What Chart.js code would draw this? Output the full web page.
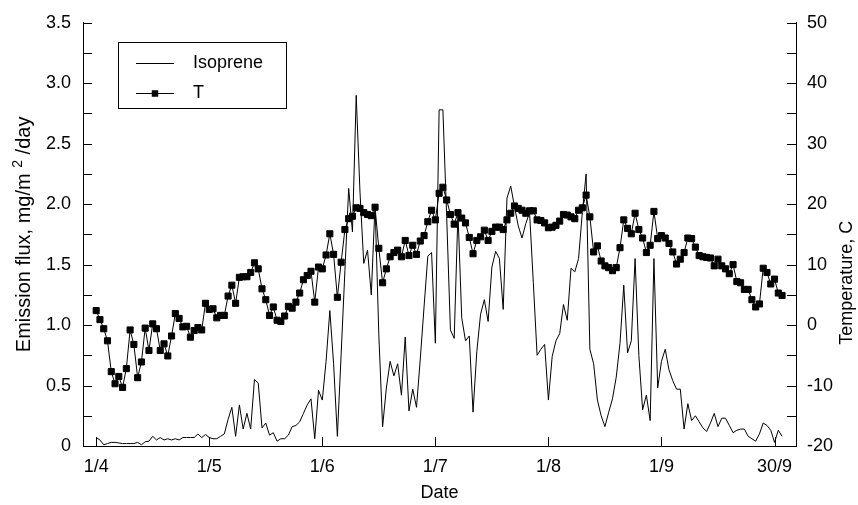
<!DOCTYPE html>
<html><head><meta charset="utf-8">
<script src="https://cdn.jsdelivr.net/npm/chart.js@4.4.0/dist/chart.umd.min.js"></script>
<style>html,body{margin:0;padding:0;background:#fff}#wrap{width:858px;height:505px;position:relative}</style>
</head><body><div id="wrap"><canvas id="c" width="858" height="505"></canvas></div>
<script>
// Daily series, 1 April (index 0) to 30 September (index 182)
const isoprene = [
0.07,0.05,0.01,0.02,0.03,0.03,0.025,0.02,0.02,0.02,
0.02,0.03,0.01,0.035,0.04,0.08,0.05,0.07,0.05,0.06,
0.05,0.06,0.05,0.07,0.07,0.07,0.07,0.10,0.07,0.095,
0.07,0.06,0.06,0.08,0.10,0.22,0.32,0.08,0.34,0.14,
0.27,0.14,0.55,0.52,0.15,0.19,0.09,0.11,0.04,0.06,
0.06,0.09,0.16,0.17,0.20,0.27,0.34,0.39,0.06,0.46,
0.38,0.70,1.12,0.68,0.08,0.76,1.45,2.13,1.77,2.90,
2.10,1.51,1.62,1.25,2.00,0.92,0.16,0.48,0.70,0.58,
0.68,0.42,0.90,0.29,0.47,0.32,0.72,1.15,1.57,1.60,
0.85,2.78,2.78,1.90,0.96,0.89,1.93,1.06,0.87,0.91,
0.28,0.78,1.09,1.21,1.03,1.48,1.61,1.55,1.13,2.05,
2.15,1.98,1.82,1.72,1.84,1.93,1.35,0.75,0.80,0.84,
0.38,0.74,0.87,0.93,1.17,1.04,1.47,1.44,1.55,1.93,
2.25,0.80,0.68,0.38,0.25,0.16,0.28,0.39,0.57,0.85,
1.33,0.77,0.87,1.55,0.75,0.30,0.42,0.21,1.55,0.48,
0.70,0.80,0.63,0.54,0.47,0.47,0.14,0.35,0.21,0.25,
0.20,0.15,0.12,0.19,0.27,0.16,0.23,0.23,0.17,0.11,
0.13,0.14,0.14,0.08,0.06,0.04,0.10,0.19,0.17,0.13,
0.03,0.13,0.08
];
const temperature = [
2.4,0.9,-0.6,-2.6,-7.7,-9.7,-8.5,-10.3,-7.2,-0.8,
-3.2,-8.7,-6.1,-0.5,-4.2,0.2,-0.6,-4.2,-3.1,-5.1,
-1.8,1.9,1.1,-0.3,-0.2,-2.0,-0.9,-0.4,-0.8,3.6,
2.6,2.7,1.2,1.6,1.6,4.8,6.6,3.6,7.9,8.0,
8.0,8.7,10.3,9.3,6.0,4.2,1.6,3.0,0.8,0.6,
1.5,3.1,2.8,3.8,5.3,7.5,8.2,8.9,3.8,9.6,
9.3,11.6,15.1,11.7,4.6,10.4,15.8,17.6,18.0,19.4,
19.3,18.6,18.3,18.1,19.5,12.7,7.0,9.3,11.3,12.0,
12.4,11.3,14.0,11.5,13.2,11.7,13.9,14.8,17.1,19.0,
17.4,21.8,22.8,20.7,18.3,16.7,18.6,17.7,16.9,14.5,
11.8,14.0,14.6,15.7,14.0,15.5,16.2,16.2,15.8,17.4,
18.5,19.7,19.3,19.0,18.5,18.9,18.9,17.4,17.3,16.9,
16.1,16.2,16.5,17.2,18.3,18.2,17.9,17.6,19.0,19.4,
21.5,17.9,12.1,13.1,10.6,9.8,9.5,9.0,9.5,12.8,
17.4,16.0,15.1,18.5,15.8,14.4,12.0,13.2,18.8,14.3,
14.8,14.4,13.5,12.1,10.1,10.9,12.0,14.4,14.3,12.9,
11.5,11.3,11.2,11.1,9.8,10.9,9.8,9.3,8.5,10.0,
7.2,7.0,5.9,5.9,4.2,3.0,3.5,9.4,8.7,6.8,
7.6,5.3,4.9
];
const xTickDays = [0, 30, 60, 90, 120, 150, 180];
const xTickLabels = ['1/4', '1/5', '1/6', '1/7', '1/8', '1/9', '30/9'];
const seriesLabels = ['Isoprene', 'T'];
const xTitle = 'Date';
const yLeftTitleParts = ['Emission flux, mg/m', '2', ' /day'];
const yRightTitle = 'Temperature, C';

const FONT = '"Liberation Sans", Arial, Helvetica, sans-serif';
const FS = 18;

const axisExtras = {
  id: 'axisExtras',
  afterDraw(chart) {
    const ctx = chart.ctx, a = chart.chartArea, L = 9;
    const sx = chart.scales.x, yl = chart.scales.y, yr = chart.scales.y2;
    ctx.save();
    ctx.strokeStyle = '#000'; ctx.lineWidth = 1;
    ctx.beginPath();
    sx.ticks.forEach(t => { const p = Math.round(sx.getPixelForValue(t.value)) + 0.5; ctx.moveTo(p, a.bottom); ctx.lineTo(p, a.bottom - L); });
    yl.ticks.forEach(t => { const p = Math.round(yl.getPixelForValue(t.value)) + 0.5; ctx.moveTo(a.left, p); ctx.lineTo(a.left + L, p); });
    yr.ticks.forEach(t => { const p = Math.round(yr.getPixelForValue(t.value)) + 0.5; ctx.moveTo(a.right, p); ctx.lineTo(a.right - L, p); });
    ctx.stroke();
    ctx.fillStyle = '#000';
    ctx.textBaseline = 'alphabetic';
    // right axis title, reading bottom-to-top
    ctx.save();
    ctx.font = FS + 'px ' + FONT;
    ctx.textAlign = 'center';
    ctx.translate(852, yr.getPixelForValue(7));
    ctx.rotate(-Math.PI / 2);
    ctx.fillText(yRightTitle, 0, 0);
    ctx.restore();
    // left axis title with superscript
    ctx.save();
    const big = '20px ' + FONT, small = '14px ' + FONT;
    ctx.font = big; const w0 = ctx.measureText(yLeftTitleParts[0] + ' ').width;
    ctx.font = small; const w1 = ctx.measureText(yLeftTitleParts[1]).width;
    ctx.font = big; const w2 = ctx.measureText(yLeftTitleParts[2]).width;
    const total = w0 + w1 + w2;
    ctx.translate(30, (a.top + a.bottom) / 2);
    ctx.rotate(-Math.PI / 2);
    ctx.textAlign = 'left';
    let x = -total / 2;
    ctx.font = big; ctx.fillText(yLeftTitleParts[0], x, 0); x += w0;
    ctx.font = small; ctx.fillText(yLeftTitleParts[1], x, -8); x += w1;
    ctx.font = big; ctx.fillText(yLeftTitleParts[2], x, 0);
    ctx.restore();
    ctx.restore();
  }
};

const boxLegend = {
  id: 'boxLegend',
  afterDraw(chart) {
    const ctx = chart.ctx;
    const bx = 118.5, by = 42.5, bw = 168, bh = 66;
    ctx.save();
    ctx.strokeStyle = '#000'; ctx.lineWidth = 1;
    ctx.strokeRect(bx, by, bw, bh);
    ctx.font = FS + 'px ' + FONT;
    ctx.textBaseline = 'middle'; ctx.textAlign = 'left'; ctx.fillStyle = '#000';
    chart.data.datasets.forEach((ds, i) => {
      const y = Math.round(by + 20 + i * 30) + 0.5;
      ctx.beginPath(); ctx.moveTo(136, y); ctx.lineTo(174, y); ctx.stroke();
      if (ds.pointRadius > 0) {
        const s = 6.5;
        ctx.fillRect(155 - s / 2, y - s / 2, s, s);
      }
      ctx.fillText(ds.label, 193, y);
    });
    ctx.restore();
  }
};

new Chart(document.getElementById('c'), {
  type: 'line',
  data: {
    datasets: [
      {
        label: seriesLabels[0],
        data: isoprene.map((v, i) => ({ x: i, y: v })),
        yAxisID: 'y',
        borderColor: '#000', borderWidth: 1, pointRadius: 0, tension: 0, fill: false
      },
      {
        label: seriesLabels[1],
        data: temperature.map((v, i) => ({ x: i, y: v })),
        yAxisID: 'y2',
        borderColor: '#000', borderWidth: 1, backgroundColor: '#000',
        pointStyle: 'rect', pointRadius: 4.3, pointBorderWidth: 1, pointBorderColor: '#000',
        pointBackgroundColor: '#000', tension: 0, fill: false
      }
    ]
  },
  options: {
    responsive: false, animation: false, devicePixelRatio: 1,
    layout: { padding: { top: 18, left: 0, right: 0, bottom: 0 } },
    plugins: { legend: { display: false }, tooltip: { enabled: false } },
    scales: {
      x: {
        type: 'linear', min: -3.5, max: 185.7,
        afterBuildTicks: s => { s.ticks = xTickDays.map(v => ({ value: v })); },
        afterFit: s => { s.height = 59; },
        grid: { display: true, drawOnChartArea: false, drawTicks: false },
        border: { display: true, color: '#000', width: 1 },
        ticks: {
          color: '#000', padding: 10, maxRotation: 0, autoSkip: false,
          font: { family: FONT, size: FS },
          callback: v => { const k = xTickDays.indexOf(v); return k >= 0 ? xTickLabels[k] : ''; }
        },
        title: { display: true, text: xTitle, color: '#000', font: { family: FONT, size: FS }, padding: { top: 0, bottom: 1 } }
      },
      y: {
        type: 'linear', position: 'left', min: 0, max: 3.5,
        afterFit: s => { s.width = 83; },
        grid: { display: true, drawOnChartArea: false, drawTicks: false },
        border: { display: true, color: '#000', width: 1 },
        ticks: {
          stepSize: 0.25, color: '#000', padding: 12, autoSkip: false,
          font: { family: FONT, size: FS },
          callback: v => (Math.abs(v * 2 - Math.round(v * 2)) < 1e-6) ? (v === 0 ? '0' : v.toFixed(1)) : ''
        }
      },
      y2: {
        type: 'linear', position: 'right', min: -20, max: 50,
        afterFit: s => { s.width = 62; },
        grid: { display: true, drawOnChartArea: false, drawTicks: false },
        border: { display: true, color: '#000', width: 1 },
        ticks: {
          stepSize: 5, color: '#000', padding: 11, autoSkip: false,
          font: { family: FONT, size: FS },
          callback: v => (v % 10 === 0) ? String(v) : ''
        }
      }
    }
  },
  plugins: [axisExtras, boxLegend]
});
</script>
</body></html>
